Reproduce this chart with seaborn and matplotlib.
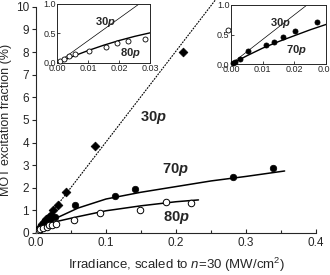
import numpy as np
import pandas as pd
import matplotlib
matplotlib.use("Agg")
import matplotlib.pyplot as plt
import seaborn as sns
from matplotlib.ticker import MultipleLocator, FormatStrFormatter

# main panel data (irradiance MW/cm^2, excitation %)
x30 = [0.004, 0.008, 0.012, 0.015, 0.019, 0.022, 0.025, 0.032, 0.043, 0.084, 0.21]
y30 = [0.2, 0.4, 0.5, 0.6, 0.7, 0.78, 1.03, 1.22, 1.8, 3.86, 8.0]
line30_x = [0.0, 0.256]
line30_y = [0.0, 10.3]

x70 = [0.0005, 0.0012, 0.0027, 0.0055, 0.011, 0.0135, 0.0163, 0.0203, 0.027,
       0.056, 0.113, 0.141, 0.281, 0.338]
y70 = [0.02, 0.04, 0.08, 0.22, 0.32, 0.37, 0.45, 0.56, 0.72,
       1.22, 1.65, 1.96, 2.49, 2.89]
fit70_x = [0.0, 0.005, 0.01, 0.015, 0.02, 0.025, 0.03, 0.06, 0.1, 0.15, 0.2, 0.25, 0.3, 0.355]
fit70_y = [0.0, 0.14, 0.27, 0.38, 0.48, 0.58, 0.67, 1.1, 1.5, 1.8, 2.05, 2.3, 2.5, 2.74]

x80 = [0.001, 0.0022, 0.0038, 0.0058, 0.0103, 0.0158, 0.0193, 0.0229, 0.0283,
       0.055, 0.091, 0.148, 0.185, 0.222]
y80 = [0.03, 0.07, 0.12, 0.16, 0.2, 0.27, 0.33, 0.37, 0.40,
       0.55, 0.9, 1.0, 1.36, 1.31]
fit80_x = [0.0, 0.005, 0.01, 0.015, 0.02, 0.025, 0.03, 0.06, 0.1, 0.15, 0.2, 0.232]
fit80_y = [0.0, 0.11, 0.21, 0.30, 0.38, 0.45, 0.51, 0.72, 0.98, 1.2, 1.38, 1.46]

# inset 30p reference lines
ins1_line_x = [0.0, 0.0265]
ins1_line_y = [0.0, 1.0]
ins2_line_x = [0.0, 0.024]
ins2_line_y = [0.0, 1.0]

sns.set_theme(style="ticks")
plt.rcParams['font.family'] = ['Liberation Sans', 'DejaVu Sans']
plt.rcParams['mathtext.fontset'] = 'custom'
plt.rcParams['mathtext.rm'] = 'Liberation Sans'
plt.rcParams['mathtext.it'] = 'Liberation Sans:italic'
plt.rcParams['mathtext.bf'] = 'Liberation Sans:bold'
plt.rcParams['mathtext.bfit'] = 'Liberation Sans:italic:bold'

fig = plt.figure(figsize=(3.3, 2.75), dpi=100)
ax = fig.add_axes([0.109, 0.153, 0.849, 0.822])


def lbl(n):
    return r"$\mathbf{%s}\mathbfit{p}$" % n


df30 = pd.DataFrame({'x': x30, 'y': y30})
df70 = pd.DataFrame({'x': x70, 'y': y70})
df80 = pd.DataFrame({'x': x80, 'y': y80})

ax.plot(line30_x, line30_y, color='black', lw=0.8, ls=(0, (1.6, 1.0)), clip_on=False)
sns.lineplot(x=fit70_x, y=fit70_y, ax=ax, color='black', lw=1.1, sort=False, errorbar=None)
sns.lineplot(x=fit80_x, y=fit80_y, ax=ax, color='black', lw=1.1, sort=False, errorbar=None)
sns.scatterplot(data=df30, x='x', y='y', ax=ax, marker='D', s=20, color='black',
                edgecolor='black', linewidth=0.5, zorder=3)
sns.scatterplot(data=df70, x='x', y='y', ax=ax, marker='o', s=22, color='black',
                edgecolor='black', linewidth=0.5, zorder=3)
sns.scatterplot(data=df80, x='x', y='y', ax=ax, marker='o', s=22, color='white',
                edgecolor='black', linewidth=0.7, zorder=3)

ax.set_xlim(0, 0.4)
ax.set_ylim(0, 10)
ax.xaxis.set_major_locator(MultipleLocator(0.1))
ax.xaxis.set_minor_locator(MultipleLocator(0.05))
ax.yaxis.set_major_locator(MultipleLocator(1))
ax.xaxis.set_major_formatter(FormatStrFormatter('%.1f'))
ax.tick_params(axis='x', direction='in', length=3, width=0.8, labelsize=8.5, pad=3)
ax.tick_params(axis='x', which='minor', direction='in', length=2, width=0.8)
ax.tick_params(axis='y', direction='out', length=3, width=0.8, labelsize=8.5, pad=2)
sns.despine(ax=ax)
for s in ['left', 'bottom']:
    ax.spines[s].set_linewidth(0.8)
ax.set_xlabel(r"Irradiance, scaled to $n$=30 (MW/cm$^2$)", fontsize=9.5, labelpad=5)
ax.set_ylabel("MOT excitation fraction (%)", fontsize=9, labelpad=3)

ax.text(0.168, 5.1, lbl(30), fontsize=10.5, ha='center', va='center')
ax.text(0.199, 2.8, lbl(70), fontsize=10.5, ha='center', va='center')
ax.text(0.2, 0.7, lbl(80), fontsize=10.5, ha='center', va='center')


def inset(rect, xs, ys, fx, fy, lx, ly, filled, name, tpos):
    a = fig.add_axes(rect)
    a.plot(lx, ly, color='black', lw=0.5)
    sns.lineplot(x=fx, y=fy, ax=a, color='black', lw=1.0, sort=False, errorbar=None)
    d = pd.DataFrame({'x': xs, 'y': ys})
    sns.scatterplot(data=d, x='x', y='y', ax=a, marker='o', s=13,
                    color='black' if filled else 'white', edgecolor='black',
                    linewidth=0.6, zorder=3, clip_on=False)
    a.set_xlim(0, 0.03)
    a.set_ylim(0, 1.0)
    a.set_xticks([0.0, 0.01, 0.02, 0.03])
    a.set_yticks([0.0, 0.5, 1.0])
    a.xaxis.set_major_formatter(FormatStrFormatter('%.2f'))
    a.yaxis.set_major_formatter(FormatStrFormatter('%.1f'))
    a.tick_params(direction='in', length=2, width=0.6, labelsize=6.5, pad=1)
    for s in a.spines.values():
        s.set_linewidth(0.7)
    a.set_xlabel('')
    a.set_ylabel('')
    a.text(0.0155, 0.69, lbl(30), fontsize=8, ha='center', va='center')
    a.text(tpos[0], tpos[1], lbl(name), fontsize=8, ha='center', va='center')
    return a


inset([0.173, 0.771, 0.282, 0.215], x80, y80, fit80_x, fit80_y,
      ins1_line_x, ins1_line_y, False, 80, (0.0236, 0.17))
inset([0.700, 0.767, 0.288, 0.215], x70, y70, fit70_x, fit70_y,
      ins2_line_x, ins2_line_y, True, 70, (0.0207, 0.24))

fig.savefig("out.png", dpi=100)
